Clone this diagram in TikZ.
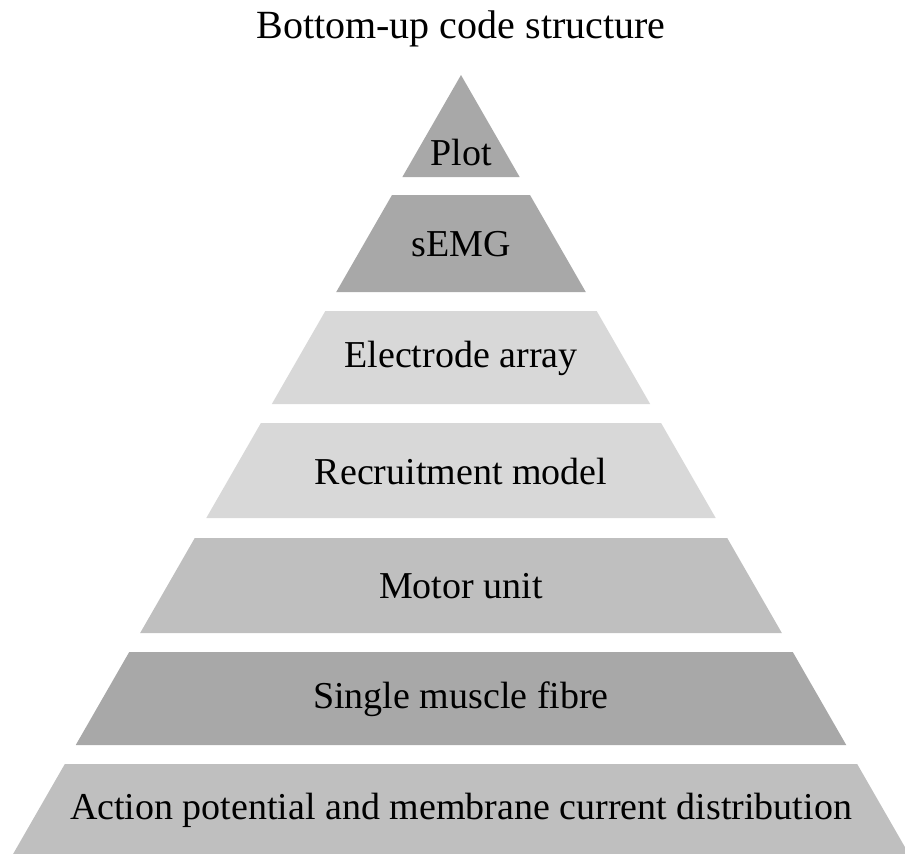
\documentclass[tikz,border=0pt]{standalone}
\usepackage{fontspec}
\setmainfont{Liberation Serif}
\definecolor{bandDark}{HTML}{A8A8A8}
\definecolor{bandMid}{HTML}{BFBFBF}
\definecolor{bandLight}{HTML}{D8D8D8}
\tikzset{
  bandtext/.style={font=\fontsize{38}{45}\selectfont, text=black, inner sep=0pt},
  titletext/.style={font=\fontsize{40}{48}\selectfont, text=black, inner sep=0pt},
}
\newcommand\pyrband[5]{%
  \fill[#3] ({461-(#1-75)*0.575},#1) -- ({461+(#1-75)*0.575},#1)
     -- ({461+(#2-75)*0.575},#2) -- ({461-(#2-75)*0.575},#2) -- cycle;
  \node[bandtext] (#5) at (461,{(#1+#2)/2+1}) {#4};%
}
\begin{document}
\begin{tikzpicture}[x=1pt,y=-1pt]
\useasboundingbox (0,0) rectangle (905,854);
\node[titletext] (title) at (461,29) {Bottom-up code structure};
% Plot triangle
\fill[bandDark] (461,75) -- ({461+102*0.575},177) -- ({461-102*0.575},177) -- cycle;
\node[bandtext] (plot) at (461,152) {Plot};
\pyrband{195}{292}{bandDark}{sEMG}{semg}
\pyrband{311}{404}{bandLight}{Electrode array}{electrode}
\pyrband{423}{518}{bandLight}{Recruitment model}{recruit}
\pyrband{538}{633}{bandMid}{Motor unit}{motor}
\pyrband{652}{745}{bandDark}{Single muscle fibre}{fibre}
\pyrband{764}{854}{bandMid}{Action potential and membrane current distribution}{action}
\end{tikzpicture}
\end{document}
